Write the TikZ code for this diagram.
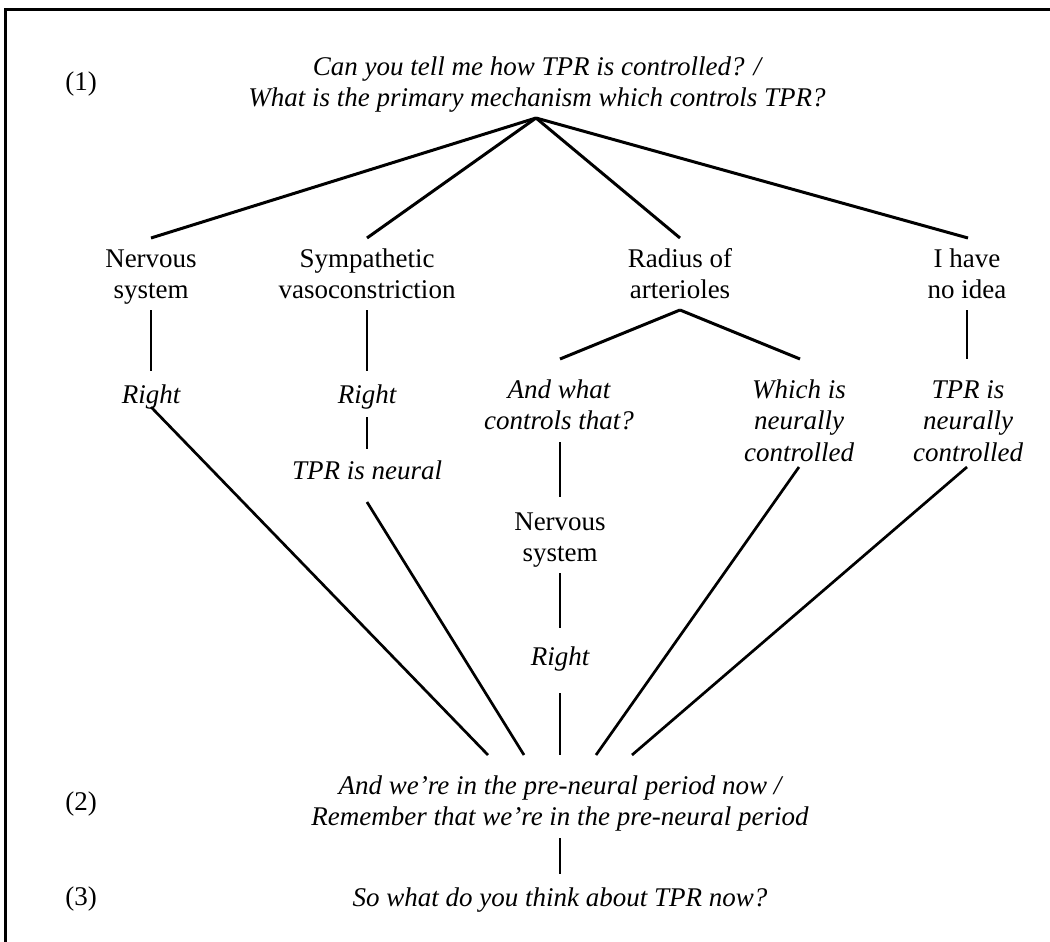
\documentclass[tikz,border=0pt]{standalone}
\usepackage{fontspec}
\setmainfont{Liberation Serif}
\begin{document}
\begin{tikzpicture}[x=1pt,y=-1pt,
  txt/.style={inner sep=0pt, align=center, anchor=north, font=\fontsize{27}{31.5}\selectfont},
  resp/.style={txt, font=\fontsize{27}{31.5}\selectfont\itshape},
  conn/.style={line width=2.7pt},
  fan/.style={line width=3pt},
  frame/.style={line width=3pt}]
\useasboundingbox (0,0) rectangle (1050,942);
\draw[frame] (5.5,942) -- (5.5,9.5) -- (1050,9.5);

% texts
\node[resp] (q1) at (537,52.95) {\strut Can you tell me how TPR is controlled? /\\What is the primary mechanism which controls TPR?};
\node[txt] (l1) at (81,67.95) {\strut(1)};
\node[txt] (ns) at (151,244.95) {\strut Nervous\\system};
\node[txt] (sv) at (367,244.95) {\strut Sympathetic\\vasoconstriction};
\node[txt] (ra) at (680,244.95) {\strut Radius of\\arterioles};
\node[txt] (id) at (967,244.95) {\strut I have\\no idea};
\node[resp] (r1) at (151,380.95) {\strut Right};
\node[resp] (r2) at (367,380.95) {\strut Right};
\node[resp] (tn) at (367,456.95) {\strut TPR is neural};
\node[resp] (aw) at (559,375.95) {\strut And what\\controls that?};
\node[resp] (wi) at (799,375.95) {\strut Which is\\neurally\\controlled};
\node[resp] (tp) at (968,375.95) {\strut TPR is\\neurally\\controlled};
\node[txt] (ns2) at (560,507.95) {\strut Nervous\\system};
\node[resp] (r3) at (560,642.95) {\strut Right};
\node[resp] (pre) at (560,771.95) {\strut And we’re in the pre-neural period now /\\Remember that we’re in the pre-neural period};
\node[txt] (l2) at (81,787.95) {\strut(2)};
\node[resp] (sw) at (560,883.95) {\strut So what do you think about TPR now?};
\node[txt] (l3) at (81,882.95) {\strut(3)};

% connector ends
\coordinate (q1-b) at (536,118);
\coordinate (ns-t) at (151,238);
\coordinate (sv-t) at (367,238);
\coordinate (ra-t) at (680,238);
\coordinate (id-t) at (968,238);
\coordinate (ns-b) at (151,310);
\coordinate (sv-b) at (367,310);
\coordinate (ra-b) at (680,310);
\coordinate (id-b) at (967,310);
\coordinate (r1-t) at (151,371);
\coordinate (r2-t) at (367,371);
\coordinate (aw-t) at (560,359);
\coordinate (wi-t) at (800,359);
\coordinate (tp-t) at (967,359);
\coordinate (r1-b) at (151,407);
\coordinate (r2-b) at (367,417);
\coordinate (tn-t) at (367,449);
\coordinate (tn-b) at (367,502);
\coordinate (aw-b) at (560,442);
\coordinate (ns2-t) at (560,497);
\coordinate (ns2-b) at (560,573);
\coordinate (r3-t) at (560,628);
\coordinate (r3-b) at (560,693);
\coordinate (wi-b) at (799,467);
\coordinate (tp-b) at (967,467);
\coordinate (pre-1) at (488,755);
\coordinate (pre-2) at (524,755);
\coordinate (pre-3) at (560,755);
\coordinate (pre-4) at (596,755);
\coordinate (pre-5) at (632,755);
\coordinate (pre-b) at (560,838);
\coordinate (sw-t) at (560,874);

% connectors
\draw[fan] (q1-b) -- (ns-t);
\draw[fan] (q1-b) -- (sv-t);
\draw[fan] (q1-b) -- (ra-t);
\draw[fan] (q1-b) -- (id-t);
\draw[conn] (ns-b) -- (r1-t);
\draw[conn] (sv-b) -- (r2-t);
\draw[fan] (ra-b) -- (aw-t);
\draw[fan] (ra-b) -- (wi-t);
\draw[conn] (id-b) -- (tp-t);
\draw[conn] (r2-b) -- (tn-t);
\draw[conn] (aw-b) -- (ns2-t);
\draw[conn] (ns2-b) -- (r3-t);
\draw[conn] (r1-b) -- (pre-1);
\draw[conn] (tn-b) -- (pre-2);
\draw[conn] (r3-b) -- (pre-3);
\draw[conn] (wi-b) -- (pre-4);
\draw[conn] (tp-b) -- (pre-5);
\draw[conn] (pre-b) -- (sw-t);
\end{tikzpicture}
\end{document}
